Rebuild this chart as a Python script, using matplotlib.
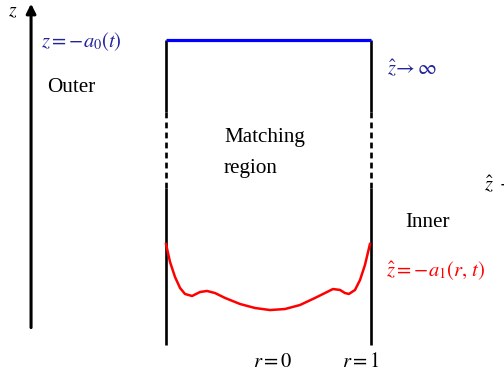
import numpy as np
from matplotlib import pyplot as plt

plt.rcParams['mathtext.fontset'] = 'stix'
plt.rcParams['font.family'] = ['Liberation Serif', 'DejaVu Serif']

# schematic coordinates: r across the domain (walls at r = -1, 1), z upwards
wall_r = np.array([-1.0, 1.0])
z_top = 2.976           # z = -a0(t)
z_dash_hi = 2.27
z_dash_lo = 1.53
z_bottom = 0.0

axis_r = -2.317
axis_z = np.array([0.17, 3.33])

# inner free surface z^ = -a1(r, t)
curve_r = np.array([-1.0, -0.961, -0.912, -0.863, -0.815, -0.746, -0.668, -0.600,
                    -0.522, -0.424, -0.278, -0.132, 0.015, 0.161, 0.307, 0.454,
                    0.551, 0.629, 0.698, 0.746, 0.785, 0.844, 0.893, 0.941, 0.990])
curve_z = np.array([0.985, 0.810, 0.663, 0.556, 0.498, 0.478, 0.517, 0.527,
                    0.507, 0.459, 0.400, 0.361, 0.341, 0.351, 0.390, 0.459,
                    0.507, 0.546, 0.537, 0.507, 0.498, 0.537, 0.634, 0.780, 0.985])

blue_txt = '#23239c'
red = '#ff0000'

fig = plt.figure(figsize=(5.04, 3.74), dpi=100)
ax = fig.add_axes([0, 0, 1, 1])
ax.set_xlim(-2.620, 2.298)
ax.set_ylim(-0.283, 3.366)
ax.axis('off')

# vertical z axis
ax.annotate('', xy=(axis_r, axis_z[1]), xytext=(axis_r, axis_z[0]),
            arrowprops=dict(arrowstyle='-|>', lw=2.2, color='k', mutation_scale=14,
                            shrinkA=0, shrinkB=0))
ax.text(-2.54, 3.21, '$z$', fontsize=14, ha='left', va='baseline')

# walls: solid, dashed (matching region), solid
for r in wall_r:
    ax.plot([r, r], [z_dash_hi, z_top], color='k', lw=1.9, solid_capstyle='butt')
    ax.plot([r, r], [z_dash_lo, z_dash_hi], color='k', lw=1.9, linestyle=(0, (2.2, 1.6)))
    ax.plot([r, r], [z_bottom, z_dash_lo], color='k', lw=1.9, solid_capstyle='butt')

ax.plot(wall_r, [z_top, z_top], color='#0000ff', lw=2.3, solid_capstyle='butt')
ax.plot(curve_r, curve_z, color=red, lw=1.8, solid_joinstyle='round')

ax.text(-2.22, 2.907, r'$z = -a_0(t)$', fontsize=14.8, color=blue_txt, ha='left', va='baseline')
ax.text(-2.16, 2.468, 'Outer', fontsize=15.2, ha='left', va='baseline')
ax.text(-0.434, 1.98, 'Matching', fontsize=15.2, ha='left', va='baseline')
ax.text(-0.434, 1.678, 'region', fontsize=15.2, ha='left', va='baseline')
ax.text(1.156, 2.644, r'$\hat{z}\!\rightarrow\infty$', fontsize=14.8, color=blue_txt,
        ha='left', va='baseline')
ax.text(1.332, 1.151, 'Inner', fontsize=15.2, ha='left', va='baseline')
ax.text(1.146, 0.673, r'$\hat{z} = -a_1(r,\,t)$', fontsize=14.8, color=red, ha='left', va='baseline')
ax.text(2.10, 1.512, r'$\hat{z}\;\rightarrow$', fontsize=14.8, ha='left', va='baseline')
ax.text(-0.151, -0.215, '$r = 0$', fontsize=14.8, ha='left', va='baseline')
ax.text(0.717, -0.215, '$r = 1$', fontsize=14.8, ha='left', va='baseline')

fig.savefig('out.png', dpi=100)
